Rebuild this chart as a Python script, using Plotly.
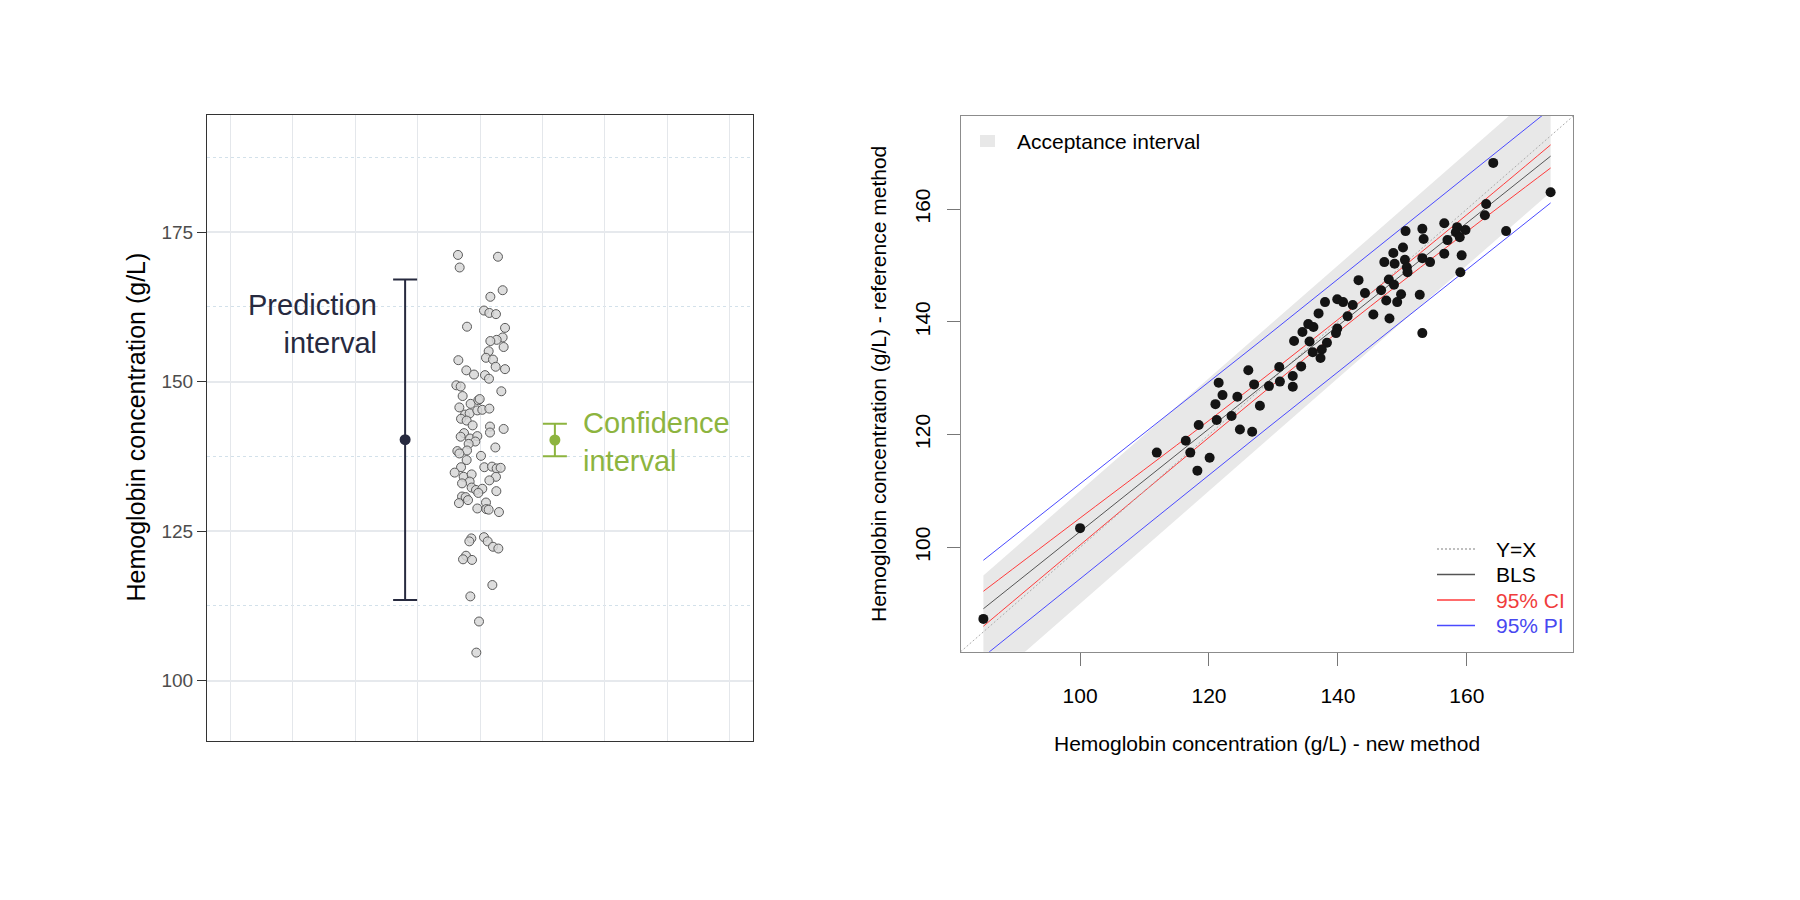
import plotly.graph_objects as go

FONT = "Liberation Sans, Arial, sans-serif"

# ---- left panel: jittered hemoglobin values ----
jitter_x = [
    -0.353, 0.288, -0.326, 0.363, 0.166, 0.064, 0.150, 0.256, -0.208, 0.401,
    0.363, 0.267, 0.166, 0.379, 0.139, 0.096, 0.208, -0.347, 0.251, 0.401,
    -0.219, -0.096, 0.080, 0.144, -0.379, -0.310, 0.342, -0.278, -0.150, -0.027,
    -0.005, -0.331, -0.240, -0.166, -0.043, 0.037, 0.150, -0.304, -0.214, -0.118,
    0.160, 0.160, 0.379, -0.256, -0.310, -0.160, -0.043, -0.075, -0.182, 0.246,
    -0.363, -0.208, -0.331, 0.016, -0.214, -0.304, -0.406, -0.262, -0.134, 0.069,
    0.192, 0.267, 0.331, 0.256, -0.166, -0.288, 0.150, -0.134, -0.064, 0.037,
    -0.027, 0.262, -0.288, -0.230, -0.192, -0.337, 0.096, -0.043, 0.101, 0.139,
    0.304, -0.139, -0.171, 0.064, 0.123, 0.208, 0.294, -0.224, -0.272, -0.128,
    0.198, -0.155, -0.016, -0.059,
]
hb_values = [
    171.2, 170.9, 169.1, 165.3, 164.2, 161.9, 161.5, 161.3, 159.2, 159.0,
    157.4, 157.0, 156.8, 155.8, 155.1, 154.0, 153.7, 153.6, 152.5, 152.1,
    151.9, 151.2, 151.1, 150.5, 149.4, 149.2, 148.4, 147.6, 146.3, 146.9,
    147.1, 145.7, 144.5, 144.7, 145.2, 145.3, 145.5, 143.8, 143.5, 142.7,
    142.5, 141.5, 142.1, 141.4, 140.8, 140.5, 140.9, 140.0, 139.6, 139.0,
    138.4, 138.5, 138.0, 137.6, 136.9, 135.7, 134.8, 134.1, 134.5, 135.7,
    135.8, 135.5, 135.6, 134.1, 133.3, 133.0, 133.5, 132.3, 131.9, 132.1,
    131.4, 131.7, 130.8, 130.7, 130.2, 129.7, 129.8, 128.8, 128.7, 128.6,
    128.2, 123.8, 123.3, 124.0, 123.3, 122.4, 122.1, 120.9, 120.3, 120.2,
    116.0, 114.1, 109.9, 104.7,
]
interval_x = [-1.2, 1.2]
interval_center = [140.3, 140.25]
interval_half = [26.8, 2.73]

# ---- right panel: method comparison ----
new_method = [
    164.1, 173.0, 163.0, 162.8, 166.1, 156.5, 158.5, 159.8, 158.3, 158.9,
    157.0, 150.5, 153.1, 153.3, 150.1, 148.6, 156.5, 159.2, 147.2, 148.8,
    150.4, 153.1, 154.3, 150.7, 150.8, 159.0, 143.2, 147.9, 148.7, 146.7,
    144.2, 149.8, 152.7, 147.5, 149.2, 139.9, 140.8, 142.3, 138.0, 137.0,
    141.5, 145.5, 148.0, 135.4, 136.2, 134.5, 139.9, 139.7, 153.1, 133.2,
    135.6, 138.3, 137.5, 136.1, 137.3, 130.9, 134.3, 129.3, 131.0, 133.0,
    133.0, 85.0, 100.0, 111.9, 116.4, 117.1, 120.1, 118.2, 118.4, 121.2,
    123.5, 124.8, 126.7, 121.0, 122.1, 124.4, 121.5, 127.0, 127.9, 126.1,
]
ref_method = [
    168.2, 163.0, 160.9, 158.9, 156.1, 157.5, 156.8, 156.3, 155.9, 155.0,
    154.5, 156.1, 156.5, 154.7, 153.2, 152.2, 152.1, 151.8, 150.6, 150.3,
    151.0, 151.3, 150.6, 149.7, 148.8, 148.8, 147.4, 147.5, 146.6, 145.6,
    145.1, 144.9, 144.8, 143.8, 143.5, 144.0, 143.5, 143.0, 143.5, 141.5,
    141.0, 141.3, 140.6, 139.6, 139.1, 138.2, 138.8, 138.0, 138.0, 136.6,
    136.5, 136.3, 135.1, 134.6, 133.6, 132.0, 132.1, 128.6, 129.4, 130.4,
    128.5, 87.3, 103.4, 116.8, 118.9, 116.8, 115.9, 113.6, 121.7, 122.6,
    123.3, 120.9, 120.5, 125.4, 127.0, 126.7, 129.2, 128.9, 125.1, 131.4,
]
bls_x = [85.0, 173.0]
bls_y = [89.1, 169.4]
ci_x = [85, 100, 120, 140, 160, 173]
ci_upper = [92.2, 105.2, 122.5, 140.4, 159.0, 171.4]
ci_lower = [86.0, 100.4, 119.5, 138.2, 156.0, 167.3]
pi_x = [85.0, 129.0, 173.0]
pi_upper = [97.7, 137.5, 177.8]
pi_lower = [80.6, 121.1, 161.1]
accept_margin = 10

PI_COLOR = "#272a3f"
CI_COLOR = "#8db43f"
RED = "#ff3b3b"
BLUE = "#4a4aff"

# the page body keeps its default 8px margin, so the figure is drawn 16px smaller
# and all layout positions below are given in window pixels
PAGE_MARGIN = 8
W, H = 1800 - 2 * PAGE_MARGIN, 900 - 2 * PAGE_MARGIN


def px(x):
    return (x - PAGE_MARGIN) / W


def py(y):
    return 1 - (y - PAGE_MARGIN) / H


fig = go.Figure()

# left panel
fig.add_trace(go.Scatter(
    x=jitter_x, y=hb_values, mode="markers",
    marker=dict(size=9, color="rgba(215,215,215,0.85)",
                line=dict(width=1, color="#5a5a5a")),
    xaxis="x", yaxis="y", showlegend=False,
))
for xi, yc, hw, col in zip(interval_x, interval_center, interval_half, [PI_COLOR, CI_COLOR]):
    fig.add_trace(go.Scatter(
        x=[xi], y=[yc], mode="markers",
        marker=dict(size=11, color=col),
        error_y=dict(type="data", array=[hw], width=12, thickness=2, color=col),
        xaxis="x", yaxis="y", showlegend=False,
    ))

# right panel
lo = min(min(new_method), min(ref_method))
hi = max(max(new_method), max(ref_method))
pad = 0.04 * (hi - lo)
rng = [lo - pad, hi + pad]
xmin, xmax = min(new_method), max(new_method)

fig.add_trace(go.Scatter(
    x=[xmin, xmax, xmax, xmin, xmin],
    y=[xmin + accept_margin, xmax + accept_margin, xmax - accept_margin,
       xmin - accept_margin, xmin + accept_margin],
    fill="toself", fillcolor="#e8e8e8", mode="none",
    xaxis="x2", yaxis="y2", showlegend=False,
))
for yy in (pi_upper, pi_lower):
    fig.add_trace(go.Scatter(x=pi_x, y=yy, mode="lines", line=dict(color=BLUE, width=1),
                             xaxis="x2", yaxis="y2", showlegend=False))
for yy in (ci_upper, ci_lower):
    fig.add_trace(go.Scatter(x=ci_x, y=yy, mode="lines", line=dict(color=RED, width=1),
                             line_shape="spline", xaxis="x2", yaxis="y2", showlegend=False))
fig.add_trace(go.Scatter(x=rng, y=rng, mode="lines",
                         line=dict(color="#ababab", width=1, dash="2px,2px"),
                         xaxis="x2", yaxis="y2", showlegend=False))
fig.add_trace(go.Scatter(x=bls_x, y=bls_y, mode="lines", line=dict(color="#555555", width=1),
                         xaxis="x2", yaxis="y2", showlegend=False))
fig.add_trace(go.Scatter(
    x=new_method, y=ref_method, mode="markers",
    marker=dict(size=10, color="#141414"),
    xaxis="x2", yaxis="y2", showlegend=False,
))

annotations = [
    dict(text="Prediction<br>interval", x=-1.62, y=159.6, xref="x", yref="y",
         xanchor="right", yanchor="middle", align="right", showarrow=False,
         font=dict(size=29, color=PI_COLOR)),
    dict(text="Confidence<br>interval", x=1.62, y=139.9, xref="x", yref="y",
         xanchor="left", yanchor="middle", align="left", showarrow=False,
         font=dict(size=29, color=CI_COLOR)),
    dict(text="Hemoglobin concentration (g/L)", x=px(135), y=py(427.5),
         xref="paper", yref="paper", textangle=-90, showarrow=False,
         xanchor="center", yanchor="middle",
         font=dict(size=25, color="black")),
    dict(text="Hemoglobin concentration (g/L) - reference method", x=px(878), y=py(384),
         xref="paper", yref="paper", textangle=-90, showarrow=False,
         xanchor="center", yanchor="middle",
         font=dict(size=21, color="black")),
    dict(text="Hemoglobin concentration (g/L) - new method", x=px(1267), y=py(743),
         xref="paper", yref="paper", showarrow=False,
         xanchor="center", yanchor="middle",
         font=dict(size=21, color="black")),
    dict(text="Acceptance interval", x=px(1015), y=py(141.5), xref="paper", yref="paper",
         xanchor="left", yanchor="middle", showarrow=False,
         font=dict(size=21, color="black")),
]
shapes = [
    dict(type="rect", xref="paper", yref="paper", x0=px(980), x1=px(995),
         y0=py(147), y1=py(135), fillcolor="#e8e8e8", line=dict(width=0)),
]
legend_items = [
    ("Y=X", "#ababab", "2px,2px", "black", 549),
    ("BLS", "#555555", "solid", "black", 574.5),
    ("95% CI", RED, "solid", "#f03c3c", 600),
    ("95% PI", BLUE, "solid", "#4848f0", 625.5),
]
for label, lcol, dash, tcol, yy in legend_items:
    shapes.append(dict(type="line", xref="paper", yref="paper", x0=px(1437), x1=px(1475),
                       y0=py(yy), y1=py(yy), line=dict(color=lcol, width=1.5, dash=dash)))
    annotations.append(dict(text=label, x=px(1494), y=py(yy), xref="paper", yref="paper",
                            xanchor="left", yanchor="middle", showarrow=False,
                            font=dict(size=21, color=tcol)))

fig.update_layout(
    width=W, height=H,
    margin=dict(l=0, r=0, t=0, b=0),
    paper_bgcolor="white", plot_bgcolor="white",
    font=dict(family=FONT),
    showlegend=False,
    xaxis=dict(
        domain=[px(207), px(753)], range=[-4.375, 4.375],
        tick0=0, dtick=1, showticklabels=False, ticks="",
        showgrid=True, gridcolor="#e4e7eb", gridwidth=1.2, zeroline=False,
        showline=True, mirror=True, linecolor="#333333", linewidth=1,
    ),
    yaxis=dict(
        domain=[py(740.5), py(115)], range=[90, 194.6],
        tickvals=[100, 125, 150, 175], ticks="outside", ticklen=9, tickcolor="#333333",
        tickfont=dict(size=19, color="#4d4d4d"),
        showgrid=True, gridcolor="#e6e9ed", gridwidth=1.5, zeroline=False,
        minor=dict(tick0=100, dtick=12.5, showgrid=True, gridcolor="#d3e1ea",
                   griddash="dot", gridwidth=1, ticks=""),
        showline=True, mirror=True, linecolor="#333333", linewidth=1,
    ),
    xaxis2=dict(
        domain=[px(960.7), px(1573.3)], range=rng, anchor="y2",
        tickvals=[100, 120, 140, 160], ticks="outside", ticklen=13, tickcolor="#777777",
        tickfont=dict(size=21, color="black"), ticklabelstandoff=12,
        showgrid=False, zeroline=False,
        showline=True, mirror=True, linecolor="#8c8c8c", linewidth=1,
    ),
    yaxis2=dict(
        domain=[py(651.7), py(116)], range=rng, anchor="x2",
        tickvals=[100, 120, 140, 160], ticks="outside", ticklen=13, tickcolor="#777777",
        tickangle=-90, tickfont=dict(size=21, color="black"), ticklabelstandoff=8,
        showgrid=False, zeroline=False,
        showline=True, mirror=True, linecolor="#8c8c8c", linewidth=1,
    ),
    annotations=annotations,
    shapes=shapes,
)

fig.write_html("out.html")
